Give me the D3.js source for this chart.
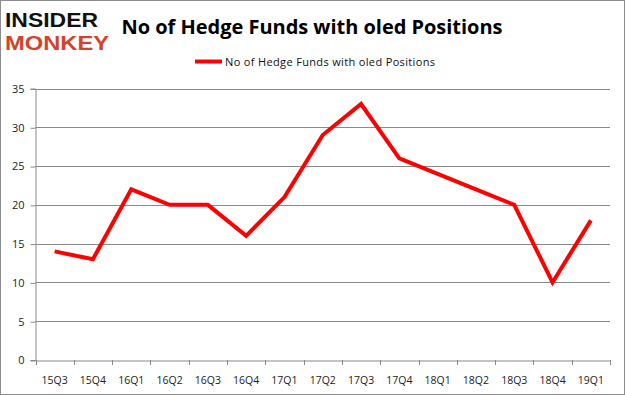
<!DOCTYPE html>
<html><head><meta charset="utf-8">
<script src="https://cdn.jsdelivr.net/npm/d3@7/dist/d3.min.js"></script>
<style>body{margin:0;background:#fff;} svg{display:block;}</style>
</head><body>
<script>
const categories = ["15Q3","15Q4","16Q1","16Q2","16Q3","16Q4","17Q1","17Q2","17Q3","17Q4","18Q1","18Q2","18Q3","18Q4","19Q1"];
const values = [14,13,22,20,20,16,21,29,33,26,24,22,20,10,18];
const yTicks = [0,5,10,15,20,25,30,35];
const seriesName = "No of Hedge Funds with oled Positions";
const titleText = "No of Hedge Funds with oled Positions";

const W = 625, H = 395;
const svg = d3.select("body").append("svg").attr("width", W).attr("height", H);
svg.append("rect").attr("x",0.5).attr("y",0.5).attr("width",W-1).attr("height",H-1)
  .attr("fill","#fff").attr("stroke","#8c8c8c");

const m = {left:35.5, right:610, top:88.5, bottom:360};
const x = d3.scaleBand().domain(categories).range([m.left, m.right]);
const y = d3.scaleLinear().domain([0,35]).range([m.bottom, m.top]);

// grid
svg.append("g").selectAll("line").data(yTicks.filter(d=>d>0)).join("line")
  .attr("x1", m.left).attr("x2", m.right)
  .attr("y1", d=>Math.round(y(d))+0.5).attr("y2", d=>Math.round(y(d))+0.5)
  .attr("stroke","#8a8a8a").attr("stroke-width",1);

// y axis
const ya = svg.append("g").attr("transform",`translate(${m.left},0)`)
  .call(d3.axisLeft(y).tickValues(yTicks).tickSize(5).tickPadding(6));
ya.select(".domain").attr("stroke","#8a8a8a");
ya.selectAll(".tick line").attr("stroke","#8a8a8a").attr("transform","translate(0,0.5)");
ya.selectAll(".tick text").attr("font-family","'Open Sans', 'Liberation Sans', sans-serif").attr("font-size","11px").attr("fill","#222").attr("dy","0.35em");

// x axis
const xa = svg.append("g").attr("transform",`translate(0,${m.bottom+0.5})`)
  .call(d3.axisBottom(x).tickSize(0).tickPadding(16));
xa.select(".domain").attr("stroke","#8a8a8a");
xa.selectAll(".tick text").attr("font-family","'Open Sans', 'Liberation Sans', sans-serif").attr("font-size","10.5px").attr("fill","#222");
// tick marks at band boundaries
const bounds = categories.map(c=>x(c)).concat([m.right]);
svg.append("g").selectAll("line").data(bounds).join("line")
  .attr("x1", d=>Math.round(d)+0.5).attr("x2", d=>Math.round(d)+0.5)
  .attr("y1", m.bottom).attr("y2", m.bottom+5).attr("stroke","#8a8a8a");

// line
const line = d3.line().x((d,i)=>x(categories[i])+x.bandwidth()/2).y(d=>y(d));
svg.append("path").datum(values).attr("d", line).attr("fill","none")
  .attr("stroke","#ff0000").attr("stroke-width",4).attr("stroke-linejoin","miter");

// title
svg.append("text").attr("x",312).attr("y",34).attr("text-anchor","middle")
  .attr("font-family","'Open Sans', 'Liberation Sans', sans-serif").attr("font-weight","bold")
  .attr("font-size","20px").attr("fill","#000").attr("textLength",381).text(titleText);

// legend
svg.append("line").attr("x1",195).attr("x2",222).attr("y1",61.5).attr("y2",61.5)
  .attr("stroke","#ff0000").attr("stroke-width",4);
svg.append("text").attr("x",225).attr("y",65.5)
  .attr("font-family","'Open Sans', 'Liberation Sans', sans-serif").attr("font-size","11px")
  .attr("fill","#111").attr("textLength",210).text(seriesName);

// logo
svg.append("text").attr("x",5).attr("y",27).attr("font-family","'Liberation Sans', sans-serif")
  .attr("font-weight","bold").attr("font-size","20px").attr("fill","#111")
  .attr("textLength",93).attr("lengthAdjust","spacingAndGlyphs").text("INSIDER");
svg.append("text").attr("x",5).attr("y",49.5).attr("font-family","'Liberation Sans', sans-serif")
  .attr("font-weight","bold").attr("font-size","20px").attr("fill","#d5422c")
  .attr("textLength",104).attr("lengthAdjust","spacingAndGlyphs").text("MONKEY");
</script>
</body></html>
